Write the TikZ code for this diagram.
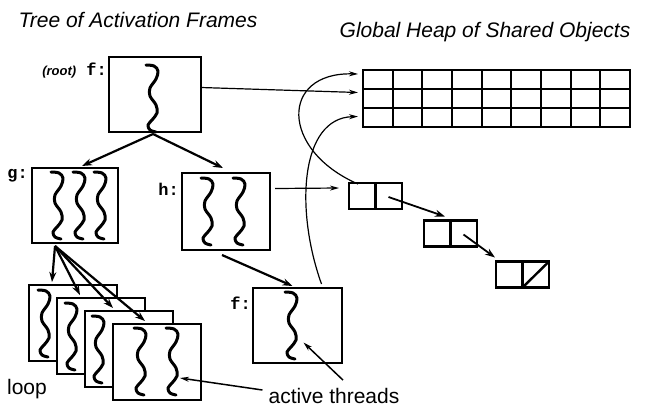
\documentclass[tikz,border=0pt]{standalone}
\usepackage{fontspec}
\newfontfamily\hv{Liberation Sans}
\newfontfamily\cour{Liberation Mono}
\usetikzlibrary{arrows.meta,calc}
\begin{document}
\begin{tikzpicture}[x=1pt,y=-1pt,
  frame/.style={draw,line width=2.6pt,fill=white,minimum width=88pt,minimum height=76pt,inner sep=0pt,outer sep=0pt},
  cellbox/.style={draw,line width=2.4pt,minimum width=53pt,minimum height=26pt,inner sep=0pt,outer sep=0pt},
  squigline/.style={line width=3pt,line cap=round,line join=round},
  squig/.pic={\draw[squigline] plot[smooth,tension=0.6] coordinates {(-7,0) (1,1) (5,6) (3,14) (-3,23) (-3,31) (3,40) (4,48) (-1,55) (-5,60) (-3,65) (3,67)};},
  tarrow/.style={line width=2.2pt,-{Stealth[length=10pt,width=7pt]}},
  harrow/.style={line width=1.2pt,-{Stealth[length=9pt,width=5pt]}},
  title/.style={font=\hv\itshape\fontsize{21}{23}\selectfont,inner sep=0pt},
  plain/.style={font=\hv\fontsize{21}{23}\selectfont,inner sep=0pt},
  lab/.style={font=\cour\bfseries\fontsize{17}{19}\selectfont,inner sep=0pt,anchor=east}
]
\useasboundingbox[fill=white] (0,0) rectangle (650,413);

% titles
\node[title] (t1) at (138,20) {Tree of Activation Frames};
\node[title] (t2) at (485,32) {Global Heap of Shared Objects};

% root frame
\node[frame,minimum width=92pt,minimum height=75pt] (root) at (155,94.5) {};
\pic at (153,65) {squig};
\node[lab] (lroot) at (107,71) {{\hv\bfseries\itshape\fontsize{13}{15}\selectfont(root)} f:};

% g frame
\node[frame,minimum width=86pt,minimum height=75pt] (g) at (75,205.5) {};
\foreach \x in {58,80,101} \pic at (\x,172) {squig};
\node[lab] (lg) at (28,176) {g:};

% h frame
\node[frame,minimum width=88pt,minimum height=77pt] (h) at (226,211.5) {};
\foreach \x in {208,240} \pic at (\x,178) {squig};
\node[lab] (lh) at (179,189) {h:};

% bottom f frame
\node[frame,minimum width=89pt,minimum height=75pt] (fb) at (297.5,325.5) {};
\pic at (292,292) {squig};
\node[lab] (lf) at (251,303) {f:};

% loop frames
\node[frame] (F1) at (73,323) {};
\pic at (45,290) {squig};
\node[frame] (F2) at (101,336) {};
\pic at (72,303) {squig};
\node[frame] (F3) at (129,349) {};
\pic at (99,316) {squig};
\node[frame] (F4) at (157,362) {};
\pic at (141,328) {squig};
\pic at (173,328) {squig};

% arrows g -> loop frames
\draw[tarrow] ($(g.south)+(-20,3)$) -- ($(F1.north west)+(23,-3)$);
\draw[tarrow] ($(g.south)+(-20,3)$) -- ($(F2.north west)+(23,-3)$);
\draw[tarrow] ($(g.south)+(-20,3)$) -- ($(F3.north west)+(28,-3)$);
\draw[tarrow] ($(g.south)+(-20,3)$) -- ($(F4.north west)+(32,-3)$);

% tree arrows
\draw[tarrow] ($(root.south)+(-2,2)$) -- ($(g.north)+(7,-2)$);
\draw[tarrow] ($(root.south)+(-2,2)$) -- ($(h.north)+(-3,-5)$);
\draw[tarrow] ($(h.south)+(-4,5)$) -- ($(fb.north)+(-5,-2)$);

% heap
\node[draw,line width=2.6pt,minimum width=267pt,minimum height=57pt,inner sep=0pt,outer sep=0pt] (heap) at (496.5,98.5) {};
\foreach \i in {1,...,8}
  \draw[line width=2.2pt] ($(heap.north west)!\i/9!(heap.north east)$) -- ($(heap.south west)!\i/9!(heap.south east)$);
\foreach \i in {1,2}
  \draw[line width=2.2pt] ($(heap.north west)!\i/3!(heap.south west)$) -- ($(heap.north east)!\i/3!(heap.south east)$);

% list cells
\node[cellbox] (c1) at (375.5,196) {};
\draw[line width=2.2pt] (c1.north) -- (c1.south);
\node[cellbox] (c2) at (450.5,233.5) {};
\draw[line width=2.2pt] (c2.north) -- (c2.south);
\node[cellbox] (c3) at (522.5,274.5) {};
\draw[line width=2.2pt] (c3.north) -- (c3.south);
\draw[line width=2.4pt] (c3.south) -- (c3.north east);

% pointers
\draw[harrow] ($(root.east)+(0,-7)$) -- ($(heap.west)+(-5,-6)$);
\draw[harrow] ($(h.east)+(5,-23)$) -- ($(c1.west)+(-10,-8)$);
\draw[harrow] (c1.north west) ++(9,1) .. controls (280,150) and (280,72) .. ($(heap.north west)+(-5,4)$);
\draw[harrow] ($(fb.north)+(24,-4)$) .. controls (295,210) and (300,118) .. ($(heap.west)+(-5,18)$);
\draw[tarrow,line width=1.8pt] ($(c1.center)+(13,1)$) -- ($(c2.north west)+(21,-4)$);
\draw[tarrow,line width=1.8pt] ($(c2.center)+(13,1)$) -- ($(c3.north west)+(-1,-4)$);

% labels
\node[plain] (loop) at (27,389) {loop};
\node[plain] (act) at (334,396) {active threads};
\draw[harrow,line width=1.5pt] ($(act.west)+(-6,-6)$) -- ($(F4.center)+(23,16)$);
\draw[harrow,line width=1.5pt] ($(act.north)+(9,-8)$) -- ($(fb.center)+(6,17)$);
\end{tikzpicture}
\end{document}
